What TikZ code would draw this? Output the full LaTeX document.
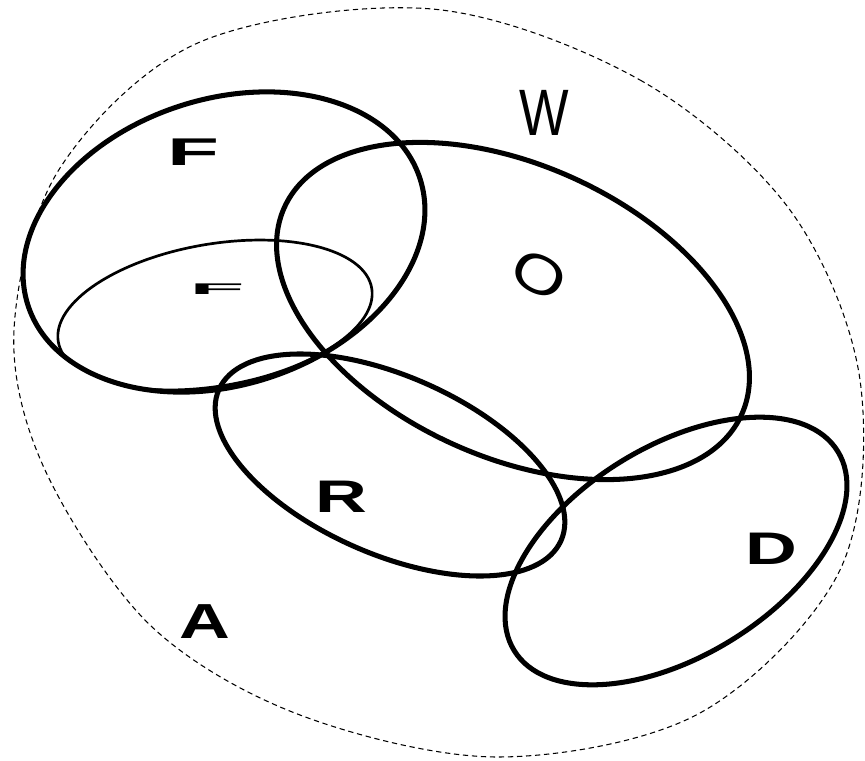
\documentclass[tikz,border=0pt]{standalone}
\usepackage{fontspec}
\setmainfont{Liberation Sans}
\usepackage{tikz}
\tikzstyle{setline} = [draw=black, line width=4.3pt]
\tikzstyle{subline} = [draw=black, line width=2.3pt]
\tikzstyle{universe} = [draw=black, line width=0.9pt, dash pattern=on 4.5pt off 3.2pt]
\tikzstyle{boldlabel} = [inner sep=0pt, font=\bfseries\fontsize{39}{42}\selectfont]
\tikzstyle{thinlabel} = [inner sep=0pt, font=\fontsize{56}{60}\selectfont]

\begin{document}
\begin{tikzpicture}[x=0.03cm, y=-0.03cm]
    \useasboundingbox (0,0) rectangle (865,761);

    % universe A (dashed)
    \draw[universe] plot[smooth cycle, tension=0.55] coordinates {(432,9) (640,80) (790,210) (860,380) (840,570) (700,713) (499,757) (300,715) (150,625) (45,470) (14,330) (60,168) (200,42)};

    % sets F, O, R, D
    \draw[setline, rotate around={17.9:(224,242)}] (224,242) ellipse (206 and 143);
    \begin{scope}
        \clip[rotate around={17.9:(224,242)}] (224,242) ellipse (206 and 143);
        \draw[subline, rotate around={9.7:(215,315)}] (215,315) ellipse (159 and 71);
    \end{scope}
    \draw[setline, rotate around={-24.4:(513,311)}] (513,311) ellipse (251 and 146);
    \draw[setline, rotate around={-23.8:(390,465)}] (390,465) ellipse (187 and 89);
    \draw[setline, rotate around={31.6:(676,551)}] (676,551) ellipse (190 and 105);

    % labels
    \node (labF) [boldlabel, font=\bfseries\fontsize{33}{36}\selectfont, xscale=2.2] at (193,152) {F};
    \node (labf) [boldlabel, font=\bfseries\fontsize{24}{26}\selectfont, xscale=3.2, yscale=0.55] at (217,289) {F};
    \node (labW) [thinlabel, xscale=0.8] at (544,113) {W};
    \node (labO) [thinlabel, font=\fontsize{46}{50}\selectfont, rotate=-28, xscale=1.3] at (539,275) {O};
    \node (labR) [boldlabel, xscale=1.57] at (341,497) {R};
    \node (labA) [boldlabel, font=\bfseries\fontsize{42}{45}\selectfont, xscale=1.43] at (205,622) {A};
    \node (labD) [boldlabel, xscale=1.57] at (771,549) {D};
\end{tikzpicture}
\end{document}
